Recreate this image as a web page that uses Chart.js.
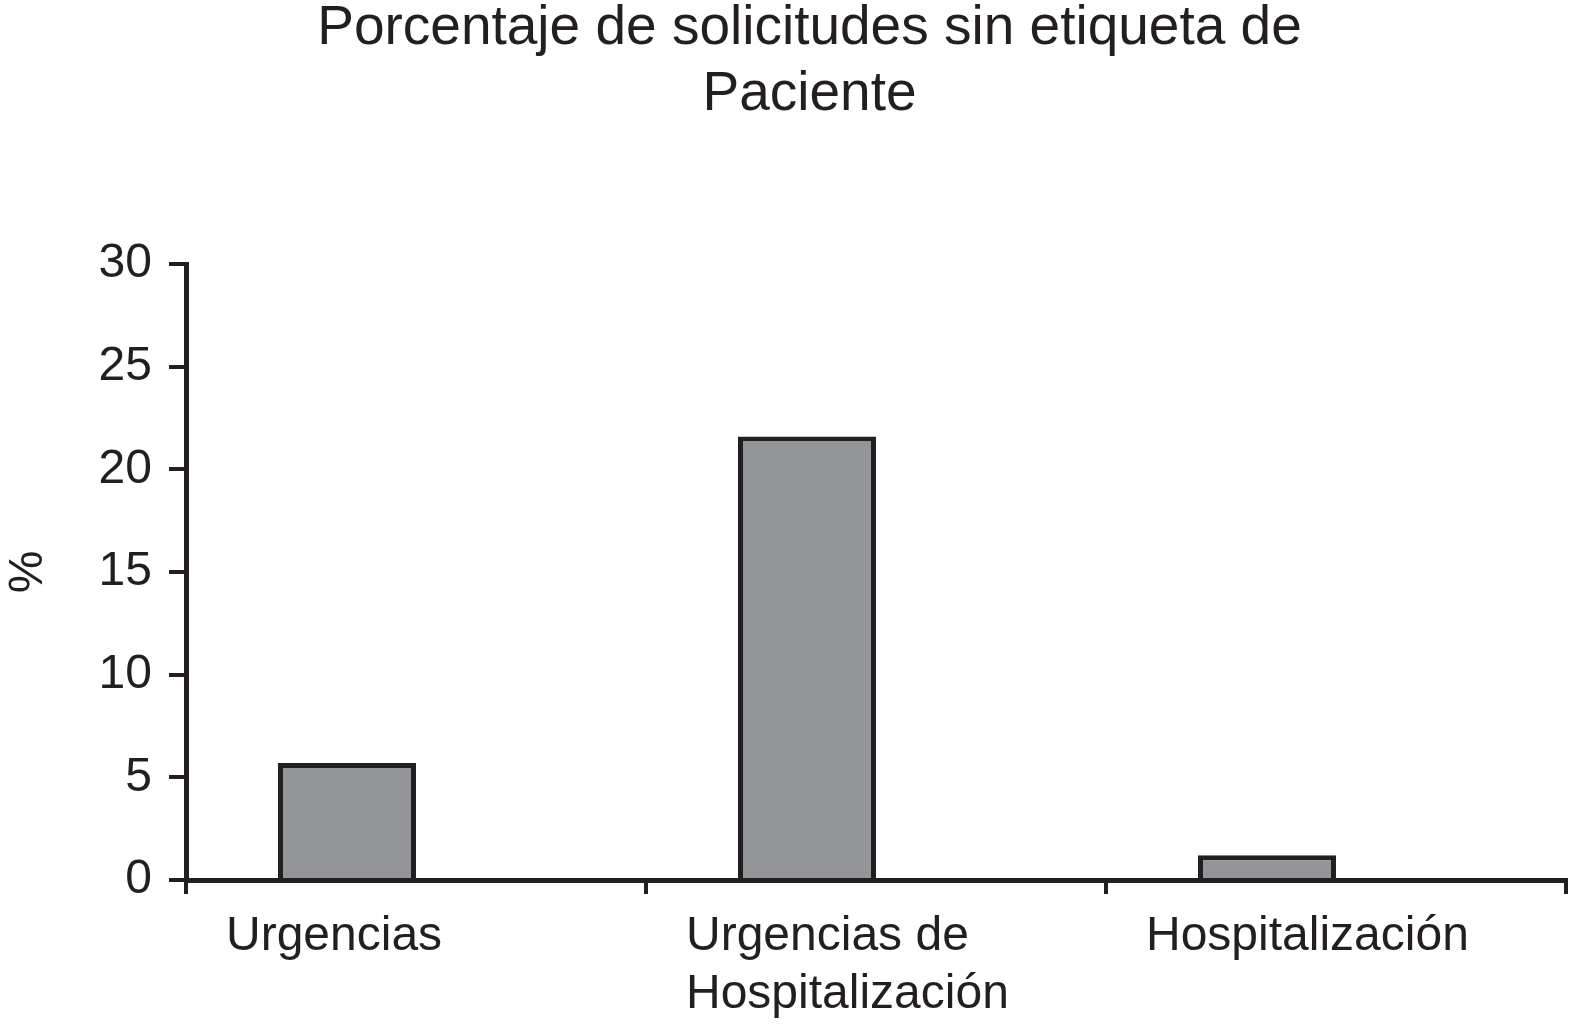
<!DOCTYPE html>
<html>
<head>
<meta charset="utf-8">
<script src="https://cdn.jsdelivr.net/npm/chart.js@4.4.1/dist/chart.umd.min.js"></script>
<style>
    html, body { margin: 0; padding: 0; background: #ffffff; }
    #contenedor { width: 1574px; height: 1033px; }
</style>
</head>
<body>
<div id="contenedor"><canvas id="barChart"></canvas></div>
<script>
    //datos del grafico
    var categorias = ['Urgencias', ['Urgencias de', 'Hospitalización'], 'Hospitalización'];
    var porcentajes = [5.7, 21.6, 1.2];
    var espacio = [null, null, null];   //serie vacia, deja la barra a la izquierda de su categoria
    var ejeYMin = 0;
    var ejeYMax = 30;
    var ejeYPaso = 5;

    var tinta = '#231f20';

    Chart.defaults.font.family = "'Liberation Sans', Arial, sans-serif";
    Chart.defaults.color = tinta;

    //centra el titulo como en la figura original
    var moverTitulo = {
        id: 'moverTitulo',
        afterLayout: function (chart) {
            if (chart.titleBlock) {
                chart.titleBlock.left = 53;
            }
        }
    };

    var ctx = document.getElementById('barChart');
    var myChart = new Chart(ctx, {
        type: 'bar',
        data: {
            labels: categorias,
            datasets: [{
                label: '%',
                data: porcentajes,
                backgroundColor: '#939598',
                borderColor: tinta,
                borderWidth: 5,
                categoryPercentage: 0.6,
                barPercentage: 1
            }, {
                label: '',
                data: espacio,
                backgroundColor: 'rgba(0,0,0,0)',
                categoryPercentage: 0.6,
                barPercentage: 1
            }]
        },
        plugins: [moverTitulo],
        options: {
            responsive: true,
            maintainAspectRatio: false,
            animation: false,
            layout: { padding: { left: 0, right: 8, top: 0, bottom: 0 } },
            plugins: {
                legend: { display: false },
                tooltip: { enabled: false },
                title: {
                    display: true,
                    text: ['Porcentaje de solicitudes sin etiqueta de', 'Paciente'],
                    color: tinta,
                    font: { size: 55, weight: 'normal', lineHeight: 1.2 },
                    padding: { top: -4, bottom: 136 }
                }
            },
            scales: {
                x: {
                    border: { display: true, color: tinta, width: 5 },
                    grid: {
                        display: true,
                        offset: true,
                        drawOnChartArea: false,
                        drawTicks: true,
                        tickLength: 14,
                        tickWidth: 4,
                        tickColor: tinta,
                        color: tinta,
                        lineWidth: 4
                    },
                    ticks: {
                        align: 'start',
                        labelOffset: -190,
                        padding: 14,
                        maxRotation: 0,
                        autoSkip: false,
                        font: { size: 48, lineHeight: 1.2 }
                    },
                    afterFit: function (scale) {
                        scale.height = 153;
                        scale.paddingLeft = 0;
                        scale.paddingRight = 0;
                    }
                },
                y: {
                    min: ejeYMin,
                    max: ejeYMax,
                    border: { display: true, color: tinta, width: 5 },
                    grid: {
                        display: true,
                        drawOnChartArea: false,
                        drawTicks: true,
                        tickLength: 17,
                        tickWidth: 4,
                        tickColor: tinta,
                        color: tinta,
                        lineWidth: 4
                    },
                    ticks: {
                        stepSize: ejeYPaso,
                        padding: 17,
                        font: { size: 48 }
                    },
                    title: {
                        display: true,
                        text: '%',
                        font: { size: 48, lineHeight: 1.2 },
                        padding: { top: 0, bottom: 0 }
                    },
                    afterFit: function (scale) { scale.width = 186; }
                }
            }
        }
    });
</script>
</body>
</html>
